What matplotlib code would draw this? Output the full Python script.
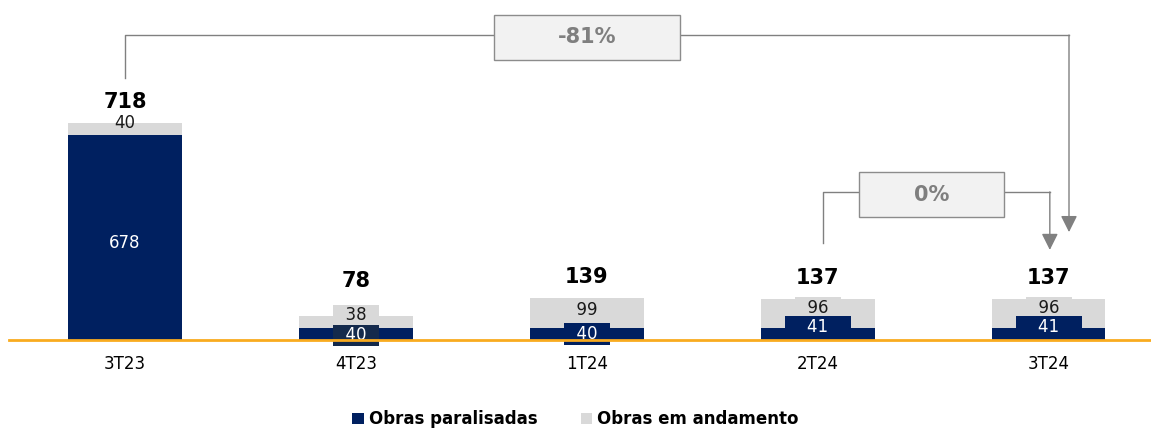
import matplotlib.pyplot as plt
from matplotlib.patches import Rectangle, Patch

quarters = ["3T23", "4T23", "1T24", "2T24", "3T24"]
paralisadas = [678, 40, 40, 41, 41]
andamento = [40, 38, 99, 96, 96]
totals = [718, 78, 139, 137, 137]

navy = "#002060"
light = "#d9d9d9"
line_gray = "#808080"
navy_box = [navy, "#142a4c", navy, navy, navy]
# label nudges (points) and box padding (spaces) to follow the reference
navy_dy = [-4, -1, 0, 5, 5]
light_dy = [4, 5, 2, 4, 4]
navy_pad = [0, 2, 2, 4, 4]
light_pad = [0, 2, 2, 2, 2]

fig = plt.figure(figsize=(11.51, 4.30), dpi=100)
ax = fig.add_axes([0, 90 / 430, 1, 340 / 430])

x = list(range(len(quarters)))
ax.bar(x, paralisadas, width=0.49, color=navy, zorder=2)
ax.bar(x, andamento, bottom=paralisadas, width=0.49, color=light, zorder=2)

ax.set_xlim(-0.541, 4.442)
ax.set_ylim(0, 1125)
ax.axhline(0, xmin=9 / 1151, color="#f9ab1f", lw=2, zorder=6, clip_on=False)
for s in ax.spines.values():
    s.set_visible(False)
ax.set_yticks([])
ax.set_xticks(x, quarters, fontsize=12)
ax.tick_params(axis="x", length=0, pad=11)

# segment labels + totals
for i in x:
    p, a, t = paralisadas[i], andamento[i], totals[i]
    small = t < 200
    sp, sl = " " * navy_pad[i], " " * light_pad[i]
    ax.annotate(f"{sp}{p}{sp}", xy=(i, p / 2), xytext=(0, navy_dy[i]),
                textcoords="offset points", ha="center", va="center",
                color="white", fontsize=12, zorder=5,
                bbox=dict(boxstyle="square,pad=0.1", fc=navy_box[i], ec="none") if small else None)
    ax.annotate(f"{sl}{a}{sl}", xy=(i, p + a / 2), xytext=(0, light_dy[i]),
                textcoords="offset points", ha="center", va="center",
                color="#1a1a1a", fontsize=12, zorder=4,
                bbox=dict(boxstyle="square,pad=0.1", fc=light, ec="none") if small else None)
    ax.annotate(str(t), xy=(i, max(t, 125)), xytext=(0, 15),
                textcoords="offset points", ha="center", va="center",
                fontsize=15, fontweight="bold", color="black")

arrow = dict(arrowstyle="-|>", color=line_gray, lw=1, mutation_scale=25,
             shrinkA=0, shrinkB=0)

# -81% bracket
ax.plot([0, 0, 4.087], [867, 1009, 1009], color=line_gray, lw=1, zorder=1)
ax.annotate("", xy=(4.087, 357), xytext=(4.087, 1009), arrowprops=arrow)
ax.add_patch(Rectangle((1.597, 926), 0.806, 149, fc="#f2f2f2", ec="#8c8c8c",
                       lw=1, zorder=3))
ax.text(2.0, 1001, "-81%", ha="center", va="center", fontsize=15,
        fontweight="bold", color="#7f7f7f", zorder=4)

# 0% bracket
ax.plot([3.022, 3.022, 4.004], [321, 490, 490], color=line_gray, lw=1, zorder=1)
ax.annotate("", xy=(4.004, 298), xytext=(4.004, 490), arrowprops=arrow)
ax.add_patch(Rectangle((3.177, 407), 0.628, 149, fc="#f2f2f2", ec="#8c8c8c",
                       lw=1, zorder=3))
ax.text(3.491, 481, "0%", ha="center", va="center", fontsize=15,
        fontweight="bold", color="#7f7f7f", zorder=4)

fig.legend(handles=[Patch(fc=navy), Patch(fc=light)],
           labels=["Obras paralisadas", "Obras em andamento"],
           loc="center", bbox_to_anchor=(0.5, 0.025), ncol=2, frameon=False,
           prop={"weight": "bold", "size": 12}, handlelength=0.7,
           handleheight=0.7, handletextpad=0.3, columnspacing=2.6)

fig.savefig("out.png", dpi=100)
